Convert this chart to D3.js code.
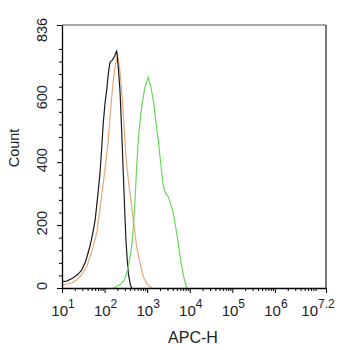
<!DOCTYPE html>
<html>
<head>
<meta charset="utf-8">
<script src="https://cdn.jsdelivr.net/npm/d3@7"></script>
<style>
  body { margin: 0; background: #fff; }
  text { font-family: "Liberation Sans", Arial, sans-serif; fill: #222; }
</style>
</head>
<body>
<svg id="chart" width="342" height="350"></svg>
<script>
/* histogram outlines: [APC-H value, count] */
const blackSeries = [[10, 20], [13, 22], [18, 32], [23, 42], [29, 57], [36, 85], [45, 131], [52, 170], [60, 216], [70, 300],
  [78, 365], [86, 450], [93, 523], [102, 585], [112, 628], [122, 680], [134, 718], [146, 722], [160, 729], [176, 740],
  [193, 755], [210, 700], [230, 628], [252, 500], [275, 365], [296, 250], [318, 152], [340, 90], [361, 47], [400, 12], [433, 0]];
const orangeSeries = [[10, 10], [13, 12], [17, 16], [22, 25], [29, 42], [38, 68], [50, 115], [65, 174], [78, 250], [93, 333],
  [107, 400], [122, 470], [134, 540], [147, 607], [160, 660], [176, 702], [190, 725], [203, 740], [225, 700], [252, 628],
  [285, 520], [318, 417], [370, 330], [433, 258], [500, 190], [568, 131], [680, 80], [811, 36], [980, 14], [1167, 4], [1300, 0]];
const greenSeries = [[160, 0], [230, 10], [290, 25], [330, 47], [380, 85], [433, 131], [475, 200], [518, 279], [565, 380],
  [619, 470], [680, 530], [744, 575], [815, 610], [890, 639], [975, 655], [1065, 670], [1220, 640], [1394, 597], [1600, 530],
  [1827, 470], [2100, 390], [2395, 322], [2750, 300], [3135, 290], [3600, 265], [4110, 237], [4940, 174], [5650, 120],
  [6475, 68], [7400, 30], [8490, 0]];

const yTicks = [0, 200, 400, 600, 836];
const xDecades = [1, 2, 3, 4, 5, 6];
const xMax = 7.2;

const svg = d3.select('#chart');
const mLeft = 62, mRight = 326, mTop = 25, mBottom = 288;

const xScale = d3.scaleLog().domain([10, Math.pow(10, xMax)]).range([mLeft, mRight]);
const yScale = d3.scaleLinear().domain([0, 836]).range([mBottom, mTop]);

/* curves */
const line = d3.line().x(d => xScale(d[0])).y(d => yScale(d[1]));
[[orangeSeries, '#e6aa78'], [blackSeries, '#1a1a1a'], [greenSeries, '#6ad95a']].forEach(([s, c]) => {
  svg.append('path')
    .datum(s)
    .attr('d', line)
    .attr('fill', 'none')
    .attr('stroke', c)
    .attr('stroke-width', 1.2);
});

/* frame */
svg.append('line').attr('x1', mLeft).attr('x2', mRight).attr('y1', mTop).attr('y2', mTop)
  .attr('stroke', '#555').attr('stroke-width', 1);
svg.append('line').attr('x1', mRight).attr('x2', mRight).attr('y1', mTop).attr('y2', mBottom)
  .attr('stroke', '#222').attr('stroke-width', 1.2);

/* y axis */
const minorY = d3.range(0, 836, 40).filter(v => v % 200 !== 0);
svg.append('g')
  .attr('transform', `translate(${mLeft},0)`)
  .call(d3.axisLeft(yScale).tickValues(minorY).tickSize(3).tickFormat(''))
  .call(g => g.select('.domain').remove());
const yAxis = svg.append('g')
  .attr('transform', `translate(${mLeft},0)`)
  .call(d3.axisLeft(yScale).tickValues(yTicks).tickSize(5).tickSizeOuter(0).tickFormat(''));
yAxis.select('.domain').attr('stroke-width', 1.3);

yTicks.forEach(v => {
  const yy = v === 836 ? yScale(v) + 5 : yScale(v) - 2;
  svg.append('text')
    .attr('transform', `translate(47,${yy}) rotate(-90)`)
    .attr('text-anchor', 'middle')
    .attr('font-size', 14.5)
    .text(v);
});

/* x axis */
const minorX = [];
for (let e = 1; e < 8; e++) {
  for (let m = 2; m <= 9; m++) {
    const v = m * Math.pow(10, e);
    if (Math.log10(v) < xMax) minorX.push(v);
  }
}
svg.append('g')
  .attr('transform', `translate(0,${mBottom})`)
  .call(d3.axisBottom(xScale).tickValues(minorX).tickSize(3).tickFormat(''))
  .call(g => g.select('.domain').remove());
const majorX = xDecades.map(e => Math.pow(10, e)).concat([Math.pow(10, xMax)]);
const xAxis = svg.append('g')
  .attr('transform', `translate(0,${mBottom})`)
  .call(d3.axisBottom(xScale).tickValues(majorX).tickSize(5).tickSizeOuter(0).tickFormat(''));
xAxis.select('.domain').attr('stroke-width', 1.3);

xDecades.map(String).concat([String(xMax)]).forEach((lab, i) => {
  const t = svg.append('text')
    .attr('x', xScale(majorX[i]) + (lab.length > 1 ? -8 : 1))
    .attr('y', 316)
    .attr('text-anchor', 'middle')
    .attr('font-size', 15);
  t.append('tspan').text('10');
  t.append('tspan').attr('dy', -8).attr('font-size', 12).text(lab);
});

/* axis titles */
svg.append('text')
  .attr('x', 193).attr('y', 343)
  .attr('text-anchor', 'middle')
  .attr('font-size', 16)
  .text('APC-H');

svg.append('text')
  .attr('transform', 'translate(19,148) rotate(-90)')
  .attr('text-anchor', 'middle')
  .attr('font-size', 14.5)
  .text('Count');
</script>
</body>
</html>
